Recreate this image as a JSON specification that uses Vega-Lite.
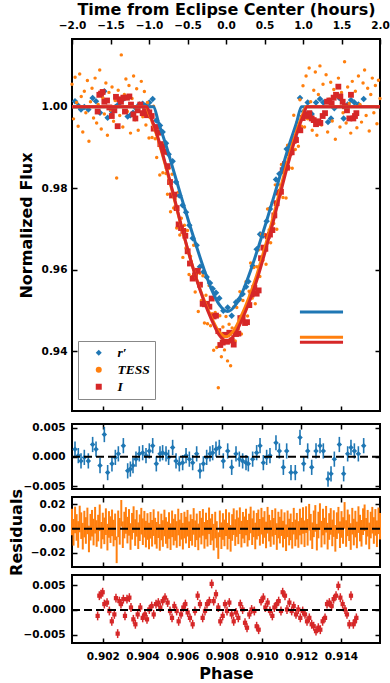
{
"$schema": "https://vega.github.io/schema/vega-lite/v6.json",
"background": "white",
"padding": {"left": 7, "top": 0, "right": 0, "bottom": 0},
"spacing": 13,
"bounds": "flush",
"config": {
  "font": "DejaVu Sans",
  "concat": {"spacing": 8},
  "view": {"stroke": "black", "strokeWidth": 2},
  "axis": {"domain": false, "grid": false, "labelFlush": false, "tickColor": "black", "tickWidth": 1.5, "tickSize": -5,
    "labelFont": "DejaVu Sans", "labelFontWeight": "bold", "labelFontSize": 10.5, "labelColor": "black",
    "titleFont": "DejaVu Sans", "titleFontWeight": "bold", "titleFontSize": 16, "titleColor": "black", "labelPadding": 9}
},
"datasets": {
"pts": [
{"b":"r′","t":-1.961,"f":1.0013,"r":0.0013,"e":0.0013},{"b":"r′","t":-1.918,"f":1.0002,"r":0.0002,"e":0.0013},{"b":"r′","t":-1.883,"f":0.9993,"r":-0.0007,"e":0.0013},{"b":"r′","t":-1.840,"f":0.9999,"r":-0.0001,"e":0.0013},{"b":"r′","t":-1.788,"f":0.9993,"r":-0.0007,"e":0.0013},{"b":"r′","t":-1.732,"f":1.0021,"r":0.0021,"e":0.0013},{"b":"r′","t":-1.688,"f":1.0013,"r":0.0013,"e":0.0013},{"b":"r′","t":-1.636,"f":0.9985,"r":-0.0015,"e":0.0013},{"b":"r′","t":-1.580,"f":1.0038,"r":0.0038,"e":0.0013},{"b":"r′","t":-1.537,"f":0.9973,"r":-0.0027,"e":0.0013},
{"b":"r′","t":-1.481,"f":0.9988,"r":-0.0012,"e":0.0013},{"b":"r′","t":-1.437,"f":0.9999,"r":-0.0001,"e":0.0013},{"b":"r′","t":-1.398,"f":1.0005,"r":0.0005,"e":0.0013},{"b":"r′","t":-1.333,"f":1.0019,"r":0.0019,"e":0.0013},{"b":"r′","t":-1.277,"f":0.9976,"r":-0.0024,"e":0.0013},{"b":"r′","t":-1.242,"f":0.9979,"r":-0.0021,"e":0.0013},{"b":"r′","t":-1.208,"f":0.9985,"r":-0.0015,"e":0.0013},{"b":"r′","t":-1.169,"f":0.9996,"r":-0.0004,"e":0.0013},{"b":"r′","t":-1.126,"f":1.0005,"r":0.0005,"e":0.0013},{"b":"r′","t":-1.082,"f":1.0007,"r":0.0007,"e":0.0013},
{"b":"r′","t":-1.039,"f":1.0002,"r":0.0002,"e":0.0013},{"b":"r′","t":-0.996,"f":1.0010,"r":0.0010,"e":0.0013},{"b":"r′","t":-0.952,"f":1.0019,"r":0.0019,"e":0.0013},{"b":"r′","t":-0.905,"f":0.9966,"r":-0.0012,"e":0.0013},{"b":"r′","t":-0.857,"f":0.9954,"r":0.0005,"e":0.0013},{"b":"r′","t":-0.823,"f":0.9938,"r":0.0007,"e":0.0013},{"b":"r′","t":-0.779,"f":0.9910,"r":0.0005,"e":0.0013},{"b":"r′","t":-0.745,"f":0.9883,"r":-0.0001,"e":0.0013},{"b":"r′","t":-0.693,"f":0.9866,"r":0.0016,"e":0.0013},{"b":"r′","t":-0.649,"f":0.9815,"r":-0.0007,"e":0.0013},
{"b":"r′","t":-0.606,"f":0.9782,"r":-0.0012,"e":0.0013},{"b":"r′","t":-0.563,"f":0.9758,"r":-0.0010,"e":0.0013},{"b":"r′","t":-0.519,"f":0.9741,"r":0.0002,"e":0.0013},{"b":"r′","t":-0.476,"f":0.9709,"r":-0.0004,"e":0.0013},{"b":"r′","t":-0.433,"f":0.9677,"r":-0.0010,"e":0.0013},{"b":"r′","t":-0.381,"f":0.9660,"r":0.0005,"e":0.0013},{"b":"r′","t":-0.338,"f":0.9607,"r":-0.0024,"e":0.0013},{"b":"r′","t":-0.294,"f":0.9594,"r":-0.0012,"e":0.0013},{"b":"r′","t":-0.251,"f":0.9582,"r":-0.0001,"e":0.0013},{"b":"r′","t":-0.208,"f":0.9567,"r":0.0005,"e":0.0013},
{"b":"r′","t":-0.173,"f":0.9553,"r":0.0007,"e":0.0013},{"b":"r′","t":-0.130,"f":0.9543,"r":0.0013,"e":0.0013},{"b":"r′","t":-0.087,"f":0.9530,"r":0.0016,"e":0.0013},{"b":"r′","t":-0.035,"f":0.9499,"r":-0.0007,"e":0.0013},{"b":"r′","t":0.022,"f":0.9507,"r":0.0010,"e":0.0013},{"b":"r′","t":0.074,"f":0.9487,"r":-0.0018,"e":0.0013},{"b":"r′","t":0.130,"f":0.9520,"r":0.0005,"e":0.0013},{"b":"r′","t":0.173,"f":0.9527,"r":-0.0004,"e":0.0013},{"b":"r′","t":0.216,"f":0.9540,"r":-0.0007,"e":0.0013},{"b":"r′","t":0.260,"f":0.9558,"r":-0.0010,"e":0.0013},
{"b":"r′","t":0.290,"f":0.9571,"r":-0.0012,"e":0.0013},{"b":"r′","t":0.346,"f":0.9609,"r":-0.0004,"e":0.0013},{"b":"r′","t":0.398,"f":0.9650,"r":0.0007,"e":0.0013},{"b":"r′","t":0.442,"f":0.9687,"r":0.0019,"e":0.0013},{"b":"r′","t":0.485,"f":0.9684,"r":-0.0010,"e":0.0013},{"b":"r′","t":0.528,"f":0.9719,"r":-0.0001,"e":0.0013},{"b":"r′","t":0.571,"f":0.9749,"r":0.0002,"e":0.0013},{"b":"r′","t":0.649,"f":0.9821,"r":0.0024,"e":0.0013},{"b":"r′","t":0.693,"f":0.9835,"r":0.0010,"e":0.0013},{"b":"r′","t":0.745,"f":0.9840,"r":-0.0018,"e":0.0013},
{"b":"r′","t":0.788,"f":0.9896,"r":0.0010,"e":0.0013},{"b":"r′","t":0.844,"f":0.9893,"r":-0.0027,"e":0.0013},{"b":"r′","t":0.900,"f":0.9925,"r":-0.0027,"e":0.0013},{"b":"r′","t":0.961,"f":1.0021,"r":0.0033,"e":0.0013},{"b":"r′","t":1.009,"f":0.9988,"r":-0.0012,"e":0.0013},{"b":"r′","t":1.061,"f":1.0010,"r":0.0010,"e":0.0013},{"b":"r′","t":1.113,"f":0.9982,"r":-0.0018,"e":0.0013},{"b":"r′","t":1.169,"f":1.0010,"r":0.0010,"e":0.0013},{"b":"r′","t":1.221,"f":1.0019,"r":0.0019,"e":0.0013},{"b":"r′","t":1.264,"f":1.0010,"r":0.0010,"e":0.0013},
{"b":"r′","t":1.325,"f":0.9962,"r":-0.0038,"e":0.0013},{"b":"r′","t":1.364,"f":0.9971,"r":-0.0029,"e":0.0013},{"b":"r′","t":1.407,"f":0.9996,"r":-0.0004,"e":0.0013},{"b":"r′","t":1.472,"f":1.0021,"r":0.0021,"e":0.0013},{"b":"r′","t":1.528,"f":0.9971,"r":-0.0029,"e":0.0013},{"b":"r′","t":1.580,"f":1.0005,"r":0.0005,"e":0.0013},{"b":"r′","t":1.623,"f":1.0016,"r":0.0016,"e":0.0013},{"b":"r′","t":1.667,"f":1.0010,"r":0.0010,"e":0.0013},{"b":"r′","t":1.719,"f":1.0005,"r":0.0005,"e":0.0013},{"b":"r′","t":1.788,"f":1.0019,"r":0.0019,"e":0.0013},
{"b":"TESS","t":-2.00,"f":1.0055,"r":0.0055,"e":0.011},{"b":"TESS","t":-1.98,"f":0.9970,"r":-0.0030,"e":0.011},{"b":"TESS","t":-1.96,"f":1.0072,"r":0.0072,"e":0.011},{"b":"TESS","t":-1.94,"f":1.0010,"r":0.0010,"e":0.011},{"b":"TESS","t":-1.92,"f":0.9952,"r":-0.0048,"e":0.011},{"b":"TESS","t":-1.90,"f":1.0080,"r":0.0080,"e":0.011},{"b":"TESS","t":-1.88,"f":1.0025,"r":0.0025,"e":0.011},{"b":"TESS","t":-1.86,"f":0.9938,"r":-0.0062,"e":0.011},{"b":"TESS","t":-1.84,"f":1.0038,"r":0.0038,"e":0.011},{"b":"TESS","t":-1.82,"f":0.9985,"r":-0.0015,"e":0.011},
{"b":"TESS","t":-1.80,"f":1.0064,"r":0.0064,"e":0.011},{"b":"TESS","t":-1.78,"f":0.9915,"r":-0.0085,"e":0.011},{"b":"TESS","t":-1.76,"f":1.0012,"r":0.0012,"e":0.011},{"b":"TESS","t":-1.74,"f":1.0045,"r":0.0045,"e":0.011},{"b":"TESS","t":-1.72,"f":0.9972,"r":-0.0028,"e":0.011},{"b":"TESS","t":-1.70,"f":1.0070,"r":0.0070,"e":0.011},{"b":"TESS","t":-1.68,"f":0.9960,"r":-0.0040,"e":0.011},{"b":"TESS","t":-1.66,"f":1.0005,"r":0.0005,"e":0.011},{"b":"TESS","t":-1.64,"f":1.0090,"r":0.0090,"e":0.011},{"b":"TESS","t":-1.62,"f":0.9945,"r":-0.0055,"e":0.011},
{"b":"TESS","t":-1.60,"f":1.0022,"r":0.0022,"e":0.011},{"b":"TESS","t":-1.58,"f":0.9982,"r":-0.0018,"e":0.011},{"b":"TESS","t":-1.56,"f":1.0058,"r":0.0058,"e":0.011},{"b":"TESS","t":-1.54,"f":0.9930,"r":-0.0070,"e":0.011},{"b":"TESS","t":-1.52,"f":1.0035,"r":0.0035,"e":0.011},{"b":"TESS","t":-1.50,"f":0.9992,"r":-0.0008,"e":0.011},{"b":"TESS","t":-1.48,"f":1.0048,"r":0.0048,"e":0.011},{"b":"TESS","t":-1.46,"f":0.9964,"r":-0.0036,"e":0.011},{"b":"TESS","t":-1.44,"f":1.0015,"r":0.0015,"e":0.011},{"b":"TESS","t":-1.42,"f":0.9825,"r":-0.0175,"e":0.011},
{"b":"TESS","t":-1.40,"f":1.0040,"r":0.0040,"e":0.011},{"b":"TESS","t":-1.38,"f":0.9978,"r":-0.0022,"e":0.011},{"b":"TESS","t":-1.36,"f":1.0127,"r":0.0127,"e":0.011},{"b":"TESS","t":-1.34,"f":0.9950,"r":-0.0050,"e":0.011},{"b":"TESS","t":-1.32,"f":1.0030,"r":0.0030,"e":0.011},{"b":"TESS","t":-1.30,"f":1.0068,"r":0.0068,"e":0.011},{"b":"TESS","t":-1.28,"f":0.9988,"r":-0.0012,"e":0.011},{"b":"TESS","t":-1.26,"f":1.0052,"r":0.0052,"e":0.011},{"b":"TESS","t":-1.24,"f":0.9935,"r":-0.0065,"e":0.011},{"b":"TESS","t":-1.22,"f":1.0020,"r":0.0020,"e":0.011},
{"b":"TESS","t":-1.20,"f":1.0075,"r":0.0075,"e":0.011},{"b":"TESS","t":-1.18,"f":0.9968,"r":-0.0032,"e":0.011},{"b":"TESS","t":-1.16,"f":1.0044,"r":0.0044,"e":0.011},{"b":"TESS","t":-1.14,"f":0.9942,"r":-0.0058,"e":0.011},{"b":"TESS","t":-1.12,"f":1.0008,"r":0.0008,"e":0.011},{"b":"TESS","t":-1.10,"f":1.0062,"r":0.0062,"e":0.011},{"b":"TESS","t":-1.08,"f":0.9975,"r":-0.0025,"e":0.011},{"b":"TESS","t":-1.06,"f":1.0037,"r":0.0037,"e":0.011},{"b":"TESS","t":-1.04,"f":0.9955,"r":-0.0045,"e":0.011},{"b":"TESS","t":-1.02,"f":1.0010,"r":0.0018,"e":0.011},
{"b":"TESS","t":-1.00,"f":0.9923,"r":-0.0060,"e":0.011},{"b":"TESS","t":-0.98,"f":1.0000,"r":0.0028,"e":0.011},{"b":"TESS","t":-0.96,"f":0.9924,"r":-0.0038,"e":0.011},{"b":"TESS","t":-0.94,"f":1.0001,"r":0.0050,"e":0.011},{"b":"TESS","t":-0.92,"f":0.9921,"r":-0.0020,"e":0.011},{"b":"TESS","t":-0.90,"f":0.9875,"r":-0.0055,"e":0.011},{"b":"TESS","t":-0.88,"f":0.9950,"r":0.0033,"e":0.011},{"b":"TESS","t":-0.86,"f":0.9832,"r":-0.0072,"e":0.011},{"b":"TESS","t":-0.84,"f":0.9905,"r":0.0014,"e":0.011},{"b":"TESS","t":-0.82,"f":0.9838,"r":-0.0040,"e":0.011},
{"b":"TESS","t":-0.80,"f":0.9912,"r":0.0047,"e":0.011},{"b":"TESS","t":-0.78,"f":0.9836,"r":-0.0015,"e":0.011},{"b":"TESS","t":-0.76,"f":0.9785,"r":-0.0052,"e":0.011},{"b":"TESS","t":-0.74,"f":0.9848,"r":0.0026,"e":0.011},{"b":"TESS","t":-0.72,"f":0.9742,"r":-0.0066,"e":0.011},{"b":"TESS","t":-0.70,"f":0.9834,"r":0.0040,"e":0.011},{"b":"TESS","t":-0.68,"f":0.9751,"r":-0.0028,"e":0.011},{"b":"TESS","t":-0.66,"f":0.9774,"r":0.0010,"e":0.011},{"b":"TESS","t":-0.64,"f":0.9702,"r":-0.0048,"e":0.011},{"b":"TESS","t":-0.62,"f":0.9790,"r":0.0055,"e":0.011},
{"b":"TESS","t":-0.60,"f":0.9685,"r":-0.0035,"e":0.011},{"b":"TESS","t":-0.58,"f":0.9726,"r":0.0020,"e":0.011},{"b":"TESS","t":-0.56,"f":0.9630,"r":-0.0062,"e":0.011},{"b":"TESS","t":-0.54,"f":0.9709,"r":0.0030,"e":0.011},{"b":"TESS","t":-0.52,"f":0.9653,"r":-0.0012,"e":0.011},{"b":"TESS","t":-0.50,"f":0.9696,"r":0.0045,"e":0.011},{"b":"TESS","t":-0.48,"f":0.9588,"r":-0.0050,"e":0.011},{"b":"TESS","t":-0.46,"f":0.9633,"r":0.0008,"e":0.011},{"b":"TESS","t":-0.44,"f":0.9583,"r":-0.0030,"e":0.011},{"b":"TESS","t":-0.42,"f":0.9660,"r":0.0060,"e":0.011},
{"b":"TESS","t":-0.40,"f":0.9545,"r":-0.0042,"e":0.011},{"b":"TESS","t":-0.38,"f":0.9591,"r":0.0015,"e":0.011},{"b":"TESS","t":-0.36,"f":0.9497,"r":-0.0068,"e":0.011},{"b":"TESS","t":-0.34,"f":0.9591,"r":0.0036,"e":0.011},{"b":"TESS","t":-0.32,"f":0.9524,"r":-0.0020,"e":0.011},{"b":"TESS","t":-0.30,"f":0.9585,"r":0.0052,"e":0.011},{"b":"TESS","t":-0.28,"f":0.9469,"r":-0.0055,"e":0.011},{"b":"TESS","t":-0.26,"f":0.9537,"r":0.0022,"e":0.011},{"b":"TESS","t":-0.24,"f":0.9467,"r":-0.0038,"e":0.011},{"b":"TESS","t":-0.22,"f":0.9561,"r":0.0065,"e":0.011},
{"b":"TESS","t":-0.20,"f":0.9462,"r":-0.0025,"e":0.011},{"b":"TESS","t":-0.18,"f":0.9492,"r":0.0012,"e":0.011},{"b":"TESS","t":-0.16,"f":0.9402,"r":-0.0070,"e":0.011},{"b":"TESS","t":-0.14,"f":0.9495,"r":0.0030,"e":0.011},{"b":"TESS","t":-0.12,"f":0.9409,"r":-0.0048,"e":0.011},{"b":"TESS","t":-0.10,"f":0.9310,"r":-0.0140,"e":0.011},{"b":"TESS","t":-0.08,"f":0.9487,"r":0.0040,"e":0.011},{"b":"TESS","t":-0.06,"f":0.9386,"r":-0.0058,"e":0.011},{"b":"TESS","t":-0.04,"f":0.9459,"r":0.0018,"e":0.011},{"b":"TESS","t":-0.02,"f":0.9403,"r":-0.0035,"e":0.011},
{"b":"TESS","t":0.00,"f":0.9485,"r":0.0050,"e":0.011},{"b":"TESS","t":0.02,"f":0.9376,"r":-0.0062,"e":0.011},{"b":"TESS","t":0.04,"f":0.9466,"r":0.0025,"e":0.011},{"b":"TESS","t":0.06,"f":0.9364,"r":-0.0080,"e":0.011},{"b":"TESS","t":0.08,"f":0.9457,"r":0.0010,"e":0.011},{"b":"TESS","t":0.10,"f":0.9508,"r":0.0058,"e":0.011},{"b":"TESS","t":0.12,"f":0.9425,"r":-0.0032,"e":0.011},{"b":"TESS","t":0.14,"f":0.9507,"r":0.0042,"e":0.011},{"b":"TESS","t":0.16,"f":0.9454,"r":-0.0018,"e":0.011},{"b":"TESS","t":0.18,"f":0.9546,"r":0.0066,"e":0.011},
{"b":"TESS","t":0.20,"f":0.9442,"r":-0.0045,"e":0.011},{"b":"TESS","t":0.22,"f":0.9524,"r":0.0028,"e":0.011},{"b":"TESS","t":0.24,"f":0.9495,"r":-0.0010,"e":0.011},{"b":"TESS","t":0.26,"f":0.9570,"r":0.0055,"e":0.011},{"b":"TESS","t":0.28,"f":0.9486,"r":-0.0038,"e":0.011},{"b":"TESS","t":0.30,"f":0.9547,"r":0.0014,"e":0.011},{"b":"TESS","t":0.32,"f":0.9616,"r":0.0072,"e":0.011},{"b":"TESS","t":0.34,"f":0.9530,"r":-0.0025,"e":0.011},{"b":"TESS","t":0.36,"f":0.9605,"r":0.0040,"e":0.011},{"b":"TESS","t":0.38,"f":0.9516,"r":-0.0060,"e":0.011},
{"b":"TESS","t":0.40,"f":0.9607,"r":0.0020,"e":0.011},{"b":"TESS","t":0.42,"f":0.9648,"r":0.0048,"e":0.011},{"b":"TESS","t":0.44,"f":0.9583,"r":-0.0030,"e":0.011},{"b":"TESS","t":0.46,"f":0.9687,"r":0.0062,"e":0.011},{"b":"TESS","t":0.48,"f":0.9623,"r":-0.0015,"e":0.011},{"b":"TESS","t":0.50,"f":0.9686,"r":0.0035,"e":0.011},{"b":"TESS","t":0.52,"f":0.9613,"r":-0.0052,"e":0.011},{"b":"TESS","t":0.54,"f":0.9749,"r":0.0070,"e":0.011},{"b":"TESS","t":0.56,"f":0.9697,"r":0.0005,"e":0.011},{"b":"TESS","t":0.58,"f":0.9666,"r":-0.0040,"e":0.011},
{"b":"TESS","t":0.60,"f":0.9765,"r":0.0045,"e":0.011},{"b":"TESS","t":0.62,"f":0.9713,"r":-0.0022,"e":0.011},{"b":"TESS","t":0.64,"f":0.9808,"r":0.0058,"e":0.011},{"b":"TESS","t":0.66,"f":0.9699,"r":-0.0065,"e":0.011},{"b":"TESS","t":0.68,"f":0.9809,"r":0.0030,"e":0.011},{"b":"TESS","t":0.70,"f":0.9782,"r":-0.0012,"e":0.011},{"b":"TESS","t":0.72,"f":0.9858,"r":0.0050,"e":0.011},{"b":"TESS","t":0.74,"f":0.9777,"r":-0.0045,"e":0.011},{"b":"TESS","t":0.76,"f":0.9862,"r":0.0025,"e":0.011},{"b":"TESS","t":0.78,"f":0.9776,"r":-0.0075,"e":0.011},
{"b":"TESS","t":0.80,"f":0.9905,"r":0.0040,"e":0.011},{"b":"TESS","t":0.82,"f":0.9850,"r":-0.0028,"e":0.011},{"b":"TESS","t":0.84,"f":0.9906,"r":0.0015,"e":0.011},{"b":"TESS","t":0.86,"f":0.9849,"r":-0.0055,"e":0.011},{"b":"TESS","t":0.88,"f":0.9979,"r":0.0062,"e":0.011},{"b":"TESS","t":0.90,"f":0.9895,"r":-0.0035,"e":0.011},{"b":"TESS","t":0.92,"f":0.9961,"r":0.0020,"e":0.011},{"b":"TESS","t":0.94,"f":0.9903,"r":-0.0048,"e":0.011},{"b":"TESS","t":0.96,"f":1.0017,"r":0.0055,"e":0.011},{"b":"TESS","t":0.98,"f":0.9952,"r":-0.0020,"e":0.011},
{"b":"TESS","t":1.00,"f":1.0051,"r":0.0068,"e":0.011},{"b":"TESS","t":1.02,"f":0.9950,"r":-0.0042,"e":0.011},{"b":"TESS","t":1.04,"f":1.0075,"r":0.0075,"e":0.011},{"b":"TESS","t":1.06,"f":0.9970,"r":-0.0030,"e":0.011},{"b":"TESS","t":1.08,"f":1.0095,"r":0.0095,"e":0.011},{"b":"TESS","t":1.10,"f":1.0012,"r":0.0012,"e":0.011},{"b":"TESS","t":1.12,"f":0.9942,"r":-0.0058,"e":0.011},{"b":"TESS","t":1.14,"f":1.0040,"r":0.0040,"e":0.011},{"b":"TESS","t":1.16,"f":1.0085,"r":0.0085,"e":0.011},{"b":"TESS","t":1.18,"f":0.9930,"r":-0.0070,"e":0.011},
{"b":"TESS","t":1.20,"f":1.0030,"r":0.0030,"e":0.011},{"b":"TESS","t":1.22,"f":1.0100,"r":0.0100,"e":0.011},{"b":"TESS","t":1.24,"f":0.9955,"r":-0.0045,"e":0.011},{"b":"TESS","t":1.26,"f":1.0055,"r":0.0055,"e":0.011},{"b":"TESS","t":1.28,"f":0.9980,"r":-0.0020,"e":0.011},{"b":"TESS","t":1.30,"f":1.0078,"r":0.0078,"e":0.011},{"b":"TESS","t":1.32,"f":0.9938,"r":-0.0062,"e":0.011},{"b":"TESS","t":1.34,"f":1.0018,"r":0.0018,"e":0.011},{"b":"TESS","t":1.36,"f":1.0060,"r":0.0060,"e":0.011},{"b":"TESS","t":1.38,"f":0.9965,"r":-0.0035,"e":0.011},
{"b":"TESS","t":1.40,"f":1.0042,"r":0.0042,"e":0.011},{"b":"TESS","t":1.42,"f":0.9920,"r":-0.0080,"e":0.011},{"b":"TESS","t":1.44,"f":1.0025,"r":0.0025,"e":0.011},{"b":"TESS","t":1.46,"f":1.0070,"r":0.0070,"e":0.011},{"b":"TESS","t":1.48,"f":0.9950,"r":-0.0050,"e":0.011},{"b":"TESS","t":1.50,"f":1.0035,"r":0.0035,"e":0.011},{"b":"TESS","t":1.52,"f":0.9985,"r":-0.0015,"e":0.011},{"b":"TESS","t":1.54,"f":1.0110,"r":0.0110,"e":0.011},{"b":"TESS","t":1.56,"f":0.9960,"r":-0.0040,"e":0.011},{"b":"TESS","t":1.58,"f":1.0048,"r":0.0048,"e":0.011},
{"b":"TESS","t":1.60,"f":1.0008,"r":0.0008,"e":0.011},{"b":"TESS","t":1.62,"f":0.9935,"r":-0.0065,"e":0.011},{"b":"TESS","t":1.64,"f":1.0062,"r":0.0062,"e":0.011},{"b":"TESS","t":1.66,"f":0.9972,"r":-0.0028,"e":0.011},{"b":"TESS","t":1.68,"f":1.0038,"r":0.0038,"e":0.011},{"b":"TESS","t":1.70,"f":0.9948,"r":-0.0052,"e":0.011},{"b":"TESS","t":1.72,"f":1.0075,"r":0.0075,"e":0.011},{"b":"TESS","t":1.74,"f":1.0005,"r":0.0005,"e":0.011},{"b":"TESS","t":1.76,"f":0.9962,"r":-0.0038,"e":0.011},{"b":"TESS","t":1.78,"f":1.0058,"r":0.0058,"e":0.011},
{"b":"TESS","t":1.80,"f":1.0090,"r":0.0090,"e":0.011},{"b":"TESS","t":1.82,"f":0.9978,"r":-0.0022,"e":0.011},{"b":"TESS","t":1.84,"f":1.0045,"r":0.0045,"e":0.011},{"b":"TESS","t":1.86,"f":0.9940,"r":-0.0060,"e":0.011},{"b":"TESS","t":1.88,"f":1.0030,"r":0.0030,"e":0.011},{"b":"TESS","t":1.90,"f":1.0070,"r":0.0070,"e":0.011},{"b":"TESS","t":1.92,"f":0.9985,"r":-0.0015,"e":0.011},{"b":"TESS","t":1.94,"f":1.0052,"r":0.0052,"e":0.011},{"b":"TESS","t":1.96,"f":0.9958,"r":-0.0042,"e":0.011},{"b":"TESS","t":1.98,"f":1.0065,"r":0.0065,"e":0.011},
{"b":"TESS","t":2.00,"f":1.0020,"r":0.0020,"e":0.011},
{"b":"I","t":-1.667,"f":0.9988,"r":-0.0012,"e":0.0009},{"b":"I","t":-1.645,"f":1.0029,"r":0.0029,"e":0.0009},{"b":"I","t":-1.623,"f":1.0032,"r":0.0032,"e":0.0009},{"b":"I","t":-1.602,"f":1.0036,"r":0.0036,"e":0.0009},{"b":"I","t":-1.580,"f":1.0012,"r":0.0012,"e":0.0009},{"b":"I","t":-1.545,"f":1.0015,"r":0.0015,"e":0.0009},{"b":"I","t":-1.515,"f":0.9998,"r":-0.0002,"e":0.0009},{"b":"I","t":-1.483,"f":0.9977,"r":-0.0023,"e":0.0009},{"b":"I","t":-1.450,"f":0.9991,"r":-0.0009,"e":0.0009},{"b":"I","t":-1.429,"f":1.0024,"r":0.0024,"e":0.0009},
{"b":"I","t":-1.407,"f":0.9952,"r":-0.0048,"e":0.0009},{"b":"I","t":-1.385,"f":1.0018,"r":0.0018,"e":0.0009},{"b":"I","t":-1.364,"f":1.0012,"r":0.0012,"e":0.0009},{"b":"I","t":-1.333,"f":1.0022,"r":0.0022,"e":0.0009},{"b":"I","t":-1.312,"f":0.9988,"r":-0.0012,"e":0.0009},{"b":"I","t":-1.286,"f":1.0022,"r":0.0022,"e":0.0009},{"b":"I","t":-1.255,"f":1.0025,"r":0.0025,"e":0.0009},{"b":"I","t":-1.234,"f":1.0005,"r":0.0005,"e":0.0009},{"b":"I","t":-1.203,"f":0.9981,"r":-0.0019,"e":0.0009},{"b":"I","t":-1.177,"f":0.9971,"r":-0.0029,"e":0.0009},
{"b":"I","t":-1.147,"f":0.9991,"r":-0.0009,"e":0.0009},{"b":"I","t":-1.113,"f":1.0005,"r":0.0005,"e":0.0009},{"b":"I","t":-1.082,"f":0.9984,"r":-0.0016,"e":0.0009},{"b":"I","t":-1.052,"f":0.9991,"r":-0.0009,"e":0.0009},{"b":"I","t":-1.026,"f":0.9979,"r":-0.0019,"e":0.0009},{"b":"I","t":-0.996,"f":0.9986,"r":0.0001,"e":0.0009},{"b":"I","t":-0.965,"f":0.9977,"r":0.0008,"e":0.0009},{"b":"I","t":-0.939,"f":0.9946,"r":-0.0009,"e":0.0009},{"b":"I","t":-0.909,"f":0.9950,"r":0.0012,"e":0.0009},{"b":"I","t":-0.879,"f":0.9936,"r":0.0015,"e":0.0009},
{"b":"I","t":-0.853,"f":0.9908,"r":0.0005,"e":0.0009},{"b":"I","t":-0.823,"f":0.9902,"r":0.0018,"e":0.0009},{"b":"I","t":-0.792,"f":0.9889,"r":0.0025,"e":0.0009},{"b":"I","t":-0.758,"f":0.9854,"r":0.0015,"e":0.0009},{"b":"I","t":-0.727,"f":0.9815,"r":-0.0002,"e":0.0009},{"b":"I","t":-0.701,"f":0.9782,"r":-0.0016,"e":0.0009},{"b":"I","t":-0.671,"f":0.9784,"r":0.0008,"e":0.0009},{"b":"I","t":-0.641,"f":0.9751,"r":-0.0002,"e":0.0009},{"b":"I","t":-0.615,"f":0.9711,"r":-0.0023,"e":0.0009},{"b":"I","t":-0.584,"f":0.9702,"r":-0.0009,"e":0.0009},
{"b":"I","t":-0.554,"f":0.9695,"r":0.0005,"e":0.0009},{"b":"I","t":-0.528,"f":0.9683,"r":0.0012,"e":0.0009},{"b":"I","t":-0.498,"f":0.9645,"r":-0.0005,"e":0.0009},{"b":"I","t":-0.468,"f":0.9615,"r":-0.0016,"e":0.0009},{"b":"I","t":-0.433,"f":0.9578,"r":-0.0029,"e":0.0009},{"b":"I","t":-0.403,"f":0.9586,"r":-0.0002,"e":0.0009},{"b":"I","t":-0.368,"f":0.9597,"r":0.0029,"e":0.0009},{"b":"I","t":-0.338,"f":0.9563,"r":0.0012,"e":0.0009},{"b":"I","t":-0.303,"f":0.9516,"r":-0.0016,"e":0.0009},{"b":"I","t":-0.273,"f":0.9515,"r":-0.0002,"e":0.0009},
{"b":"I","t":-0.247,"f":0.9516,"r":0.0012,"e":0.0009},{"b":"I","t":-0.216,"f":0.9509,"r":0.0018,"e":0.0009},{"b":"I","t":-0.186,"f":0.9529,"r":0.0053,"e":0.0009},{"b":"I","t":-0.160,"f":0.9485,"r":0.0018,"e":0.0009},{"b":"I","t":-0.130,"f":0.9487,"r":0.0032,"e":0.0009},{"b":"I","t":-0.100,"f":0.9449,"r":0.0005,"e":0.0009},{"b":"I","t":-0.074,"f":0.9415,"r":-0.0023,"e":0.0009},{"b":"I","t":-0.043,"f":0.9421,"r":-0.0012,"e":0.0009},{"b":"I","t":-0.013,"f":0.9440,"r":0.0012,"e":0.0009},{"b":"I","t":0.013,"f":0.9423,"r":-0.0002,"e":0.0009},
{"b":"I","t":0.043,"f":0.9445,"r":0.0015,"e":0.0009},{"b":"I","t":0.074,"f":0.9426,"r":-0.0009,"e":0.0009},{"b":"I","t":0.100,"f":0.9416,"r":-0.0023,"e":0.0009},{"b":"I","t":0.130,"f":0.9442,"r":-0.0005,"e":0.0009},{"b":"I","t":0.160,"f":0.9443,"r":-0.0016,"e":0.0009},{"b":"I","t":0.186,"f":0.9481,"r":0.0012,"e":0.0009},{"b":"I","t":0.216,"f":0.9482,"r":0.0001,"e":0.0009},{"b":"I","t":0.247,"f":0.9469,"r":-0.0026,"e":0.0009},{"b":"I","t":0.273,"f":0.9471,"r":-0.0036,"e":0.0009},{"b":"I","t":0.303,"f":0.9513,"r":-0.0009,"e":0.0009},
{"b":"I","t":0.333,"f":0.9539,"r":0.0001,"e":0.0009},{"b":"I","t":0.368,"f":0.9555,"r":-0.0002,"e":0.0009},{"b":"I","t":0.398,"f":0.9541,"r":-0.0033,"e":0.0009},{"b":"I","t":0.424,"f":0.9549,"r":-0.0040,"e":0.0009},{"b":"I","t":0.455,"f":0.9628,"r":0.0018,"e":0.0009},{"b":"I","t":0.485,"f":0.9654,"r":0.0025,"e":0.0009},{"b":"I","t":0.511,"f":0.9651,"r":0.0005,"e":0.0009},{"b":"I","t":0.541,"f":0.9682,"r":0.0015,"e":0.0009},{"b":"I","t":0.571,"f":0.9686,"r":-0.0002,"e":0.0009},{"b":"I","t":0.602,"f":0.9697,"r":-0.0012,"e":0.0009},
{"b":"I","t":0.628,"f":0.9733,"r":0.0005,"e":0.0009},{"b":"I","t":0.658,"f":0.9763,"r":0.0012,"e":0.0009},{"b":"I","t":0.684,"f":0.9789,"r":0.0018,"e":0.0009},{"b":"I","t":0.714,"f":0.9791,"r":-0.0002,"e":0.0009},{"b":"I","t":0.736,"f":0.9844,"r":0.0036,"e":0.0009},{"b":"I","t":0.766,"f":0.9859,"r":0.0029,"e":0.0009},{"b":"I","t":0.792,"f":0.9850,"r":0.0001,"e":0.0009},{"b":"I","t":0.823,"f":0.9886,"r":0.0015,"e":0.0009},{"b":"I","t":0.853,"f":0.9888,"r":-0.0002,"e":0.0009},{"b":"I","t":0.879,"f":0.9916,"r":0.0008,"e":0.0009},
{"b":"I","t":0.909,"f":0.9918,"r":-0.0009,"e":0.0009},{"b":"I","t":0.939,"f":0.9945,"r":0.0001,"e":0.0009},{"b":"I","t":0.965,"f":0.9942,"r":-0.0016,"e":0.0009},{"b":"I","t":0.996,"f":0.9972,"r":-0.0002,"e":0.0009},{"b":"I","t":1.026,"f":0.9980,"r":-0.0009,"e":0.0009},{"b":"I","t":1.052,"f":0.9977,"r":-0.0023,"e":0.0009},{"b":"I","t":1.082,"f":0.9984,"r":-0.0016,"e":0.0009},{"b":"I","t":1.113,"f":0.9971,"r":-0.0029,"e":0.0009},{"b":"I","t":1.139,"f":0.9967,"r":-0.0033,"e":0.0009},{"b":"I","t":1.169,"f":0.9957,"r":-0.0043,"e":0.0009},
{"b":"I","t":1.199,"f":0.9964,"r":-0.0036,"e":0.0009},{"b":"I","t":1.225,"f":0.9960,"r":-0.0040,"e":0.0009},{"b":"I","t":1.255,"f":0.9977,"r":-0.0023,"e":0.0009},{"b":"I","t":1.286,"f":0.9984,"r":-0.0016,"e":0.0009},{"b":"I","t":1.312,"f":1.0012,"r":0.0012,"e":0.0009},{"b":"I","t":1.342,"f":1.0015,"r":0.0015,"e":0.0009},{"b":"I","t":1.372,"f":1.0008,"r":0.0008,"e":0.0009},{"b":"I","t":1.398,"f":1.0022,"r":0.0022,"e":0.0009},{"b":"I","t":1.429,"f":1.0029,"r":0.0029,"e":0.0009},{"b":"I","t":1.459,"f":1.0049,"r":0.0049,"e":0.0009},
{"b":"I","t":1.485,"f":1.0025,"r":0.0025,"e":0.0009},{"b":"I","t":1.515,"f":1.0012,"r":0.0012,"e":0.0009},{"b":"I","t":1.545,"f":1.0001,"r":0.0001,"e":0.0009},{"b":"I","t":1.571,"f":0.9991,"r":-0.0009,"e":0.0009},{"b":"I","t":1.602,"f":0.9971,"r":-0.0029,"e":0.0009},{"b":"I","t":1.623,"f":1.0029,"r":0.0029,"e":0.0009},{"b":"I","t":1.654,"f":0.9971,"r":-0.0029,"e":0.0009},{"b":"I","t":1.675,"f":0.9977,"r":-0.0023,"e":0.0009},{"b":"I","t":1.693,"f":0.9984,"r":-0.0016,"e":0.0009}
],
"mod": [
{"b":"r′","t":-2.0,"f":1.0},{"b":"r′","t":-0.94,"f":1.0},{"b":"r′","t":-0.88,"f":0.9963},{"b":"r′","t":-0.78,"f":0.9906},{"b":"r′","t":-0.68,"f":0.9842},{"b":"r′","t":-0.58,"f":0.9778},{"b":"r′","t":-0.48,"f":0.9715},{"b":"r′","t":-0.38,"f":0.9655},{"b":"r′","t":-0.28,"f":0.9598},{"b":"r′","t":-0.18,"f":0.9548},{"b":"r′","t":-0.08,"f":0.9512},{"b":"r′","t":0.02,"f":0.9497},{"b":"r′","t":0.12,"f":0.9512},{"b":"r′","t":0.22,"f":0.9548},{"b":"r′","t":0.32,"f":0.9598},{"b":"r′","t":0.42,"f":0.9655},{"b":"r′","t":0.52,"f":0.9715},{"b":"r′","t":0.62,"f":0.9778},{"b":"r′","t":0.72,"f":0.9842},{"b":"r′","t":0.82,"f":0.9906},{"b":"r′","t":0.92,"f":0.9963},{"b":"r′","t":0.98,"f":1.0},{"b":"r′","t":2.0,"f":1.0},
{"b":"TESS","t":-2.0,"f":1.0},{"b":"TESS","t":-1.04,"f":1.0},{"b":"TESS","t":-1.0,"f":0.9983},{"b":"TESS","t":-0.9,"f":0.9930},{"b":"TESS","t":-0.8,"f":0.9865},{"b":"TESS","t":-0.7,"f":0.9794},{"b":"TESS","t":-0.6,"f":0.9720},{"b":"TESS","t":-0.5,"f":0.9651},{"b":"TESS","t":-0.4,"f":0.9587},{"b":"TESS","t":-0.3,"f":0.9533},{"b":"TESS","t":-0.2,"f":0.9487},{"b":"TESS","t":-0.1,"f":0.9450},{"b":"TESS","t":0.0,"f":0.9435},{"b":"TESS","t":0.1,"f":0.9450},{"b":"TESS","t":0.2,"f":0.9487},{"b":"TESS","t":0.3,"f":0.9533},{"b":"TESS","t":0.4,"f":0.9587},{"b":"TESS","t":0.5,"f":0.9651},{"b":"TESS","t":0.6,"f":0.9720},{"b":"TESS","t":0.7,"f":0.9794},{"b":"TESS","t":0.8,"f":0.9865},{"b":"TESS","t":0.9,"f":0.9930},{"b":"TESS","t":1.0,"f":0.9983},{"b":"TESS","t":1.04,"f":1.0},{"b":"TESS","t":2.0,"f":1.0},
{"b":"I","t":-2.0,"f":1.0},{"b":"I","t":-1.03,"f":1.0},{"b":"I","t":-0.99,"f":0.9982},{"b":"I","t":-0.89,"f":0.9928},{"b":"I","t":-0.79,"f":0.9862},{"b":"I","t":-0.69,"f":0.9790},{"b":"I","t":-0.59,"f":0.9715},{"b":"I","t":-0.49,"f":0.9645},{"b":"I","t":-0.39,"f":0.9580},{"b":"I","t":-0.29,"f":0.9525},{"b":"I","t":-0.19,"f":0.9478},{"b":"I","t":-0.09,"f":0.9440},{"b":"I","t":0.01,"f":0.9425},{"b":"I","t":0.11,"f":0.9440},{"b":"I","t":0.21,"f":0.9478},{"b":"I","t":0.31,"f":0.9525},{"b":"I","t":0.41,"f":0.9580},{"b":"I","t":0.51,"f":0.9645},{"b":"I","t":0.61,"f":0.9715},{"b":"I","t":0.71,"f":0.9790},{"b":"I","t":0.81,"f":0.9862},{"b":"I","t":0.91,"f":0.9928},{"b":"I","t":1.01,"f":0.9982},{"b":"I","t":1.05,"f":1.0},{"b":"I","t":2.0,"f":1.0}
],
"dep": [
{"b":"r′","t1":0.96,"t2":1.52,"f":0.9496},{"b":"TESS","t1":0.96,"t2":1.52,"f":0.9434},{"b":"I","t1":0.96,"t2":1.52,"f":0.9422}
]
},
"vconcat": [
{
  "width": 308, "height": 372,
  "layer": [
    {"data": {"values": [{"ph": 0.90045, "v": 1.0}]}, "mark": {"type": "point", "opacity": 0},
     "encoding": {
       "x": {"field": "ph", "type": "quantitative", "scale": {"domain": [0.90045, 0.91597], "nice": false, "zero": false}, "axis": {"orient": "bottom", "values": [0.902,0.904,0.906,0.908,0.910,0.912,0.914], "labels": false, "title": null}},
       "y": {"field": "v", "type": "quantitative", "scale": {"domain": [0.9253, 1.0166], "nice": false, "zero": false}, "axis": {"orient": "right", "values": [0.94,0.96,0.98,1.0], "labels": false, "title": null}}
     }},
    {"data": {"name": "pts"}, "transform": [{"filter": "datum.b == 'r′'"}], "mark": {"type": "point", "filled": true, "opacity": 1, "size": 42},
     "encoding": {
       "x": {"field": "t", "type": "quantitative", "scale": {"domain": [-2, 2], "nice": false, "zero": false}, "axis": {"orient": "top", "values": [-2,-1.5,-1,-0.5,0,0.5,1,1.5,2], "format": ".1f", "title": "Time from Eclipse Center (hours)", "labelPadding": 14, "titlePadding": 3}},
       "y": {"field": "f", "type": "quantitative", "scale": {"domain": [0.9253, 1.0166], "nice": false, "zero": false}, "axis": {"orient": "left", "values": [0.94,0.96,0.98,1.0], "format": ".2f", "title": "Normalized Flux", "labelPadding": 10, "titlePadding": 7}},
       "color": {"field": "b", "type": "nominal", "scale": {"domain": ["r′","TESS","I"], "range": ["#1f77b4","#ff7f0e","#d62728"]},
         "legend": {"orient": "none", "legendX": 6, "legendY": 302, "title": null, "labelFont": "Liberation Serif", "labelFontStyle": "italic", "labelFontWeight": "bold", "labelFontSize": 13.5, "labelColor": "black", "strokeColor": "#888888", "fillColor": "white", "padding": 5, "rowPadding": 2, "symbolOffset": 9, "labelOffset": 12, "cornerRadius": 0, "symbolSize": 36,
           "encode": {"symbols": {"update": {"size": {"signal": "datum.value === 'TESS' ? 12 : 38"}}}}}},
       "shape": {"field": "b", "type": "nominal", "scale": {"domain": ["r′","TESS","I"], "range": ["diamond","circle","square"]}}
     }},
    {"data": {"name": "pts"}, "transform": [{"filter": "datum.b == 'TESS'"}], "mark": {"type": "point", "filled": true, "opacity": 1, "size": 12},
     "encoding": {
       "x": {"field": "t", "type": "quantitative", "scale": {"domain": [-2, 2], "nice": false, "zero": false}, "axis": null},
       "y": {"field": "f", "type": "quantitative", "scale": {"domain": [0.9253, 1.0166], "nice": false, "zero": false}, "axis": null},
       "color": {"field": "b", "type": "nominal"},
       "shape": {"field": "b", "type": "nominal"}
     }},
    {"data": {"name": "pts"}, "transform": [{"filter": "datum.b == 'I'"}], "mark": {"type": "point", "filled": true, "opacity": 1, "size": 34},
     "encoding": {
       "x": {"field": "t", "type": "quantitative", "scale": {"domain": [-2, 2], "nice": false, "zero": false}, "axis": null},
       "y": {"field": "f", "type": "quantitative", "scale": {"domain": [0.9253, 1.0166], "nice": false, "zero": false}, "axis": null},
       "color": {"field": "b", "type": "nominal"},
       "shape": {"field": "b", "type": "nominal"}
     }},
    {"data": {"name": "mod"}, "transform": [{"filter": "datum.b == 'r′'"}], "mark": {"type": "line", "color": "#1f77b4", "strokeWidth": 3, "interpolate": "monotone"},
     "encoding": {"x": {"field": "t", "type": "quantitative", "scale": {"domain": [-2, 2], "nice": false, "zero": false}, "axis": null}, "y": {"field": "f", "type": "quantitative", "scale": {"domain": [0.9253, 1.0166], "nice": false, "zero": false}, "axis": null}}},
    {"data": {"name": "mod"}, "transform": [{"filter": "datum.b == 'TESS'"}], "mark": {"type": "line", "color": "#ff7f0e", "strokeWidth": 3, "interpolate": "monotone"},
     "encoding": {"x": {"field": "t", "type": "quantitative", "scale": {"domain": [-2, 2], "nice": false, "zero": false}, "axis": null}, "y": {"field": "f", "type": "quantitative", "scale": {"domain": [0.9253, 1.0166], "nice": false, "zero": false}, "axis": null}}},
    {"data": {"name": "mod"}, "transform": [{"filter": "datum.b == 'I'"}], "mark": {"type": "line", "color": "#d62728", "strokeWidth": 3, "interpolate": "monotone"},
     "encoding": {"x": {"field": "t", "type": "quantitative", "scale": {"domain": [-2, 2], "nice": false, "zero": false}, "axis": null}, "y": {"field": "f", "type": "quantitative", "scale": {"domain": [0.9253, 1.0166], "nice": false, "zero": false}, "axis": null}}},
    {"data": {"name": "dep"}, "transform": [{"filter": "datum.b == 'r′'"}], "mark": {"type": "rule", "color": "#1f77b4", "strokeWidth": 3},
     "encoding": {"x": {"field": "t1", "type": "quantitative", "scale": {"domain": [-2, 2], "nice": false, "zero": false}, "axis": null}, "x2": {"field": "t2"}, "y": {"field": "f", "type": "quantitative", "scale": {"domain": [0.9253, 1.0166], "nice": false, "zero": false}, "axis": null}}},
    {"data": {"name": "dep"}, "transform": [{"filter": "datum.b == 'TESS'"}], "mark": {"type": "rule", "color": "#ff7f0e", "strokeWidth": 3},
     "encoding": {"x": {"field": "t1", "type": "quantitative", "scale": {"domain": [-2, 2], "nice": false, "zero": false}, "axis": null}, "x2": {"field": "t2"}, "y": {"field": "f", "type": "quantitative", "scale": {"domain": [0.9253, 1.0166], "nice": false, "zero": false}, "axis": null}}},
    {"data": {"name": "dep"}, "transform": [{"filter": "datum.b == 'I'"}], "mark": {"type": "rule", "color": "#d62728", "strokeWidth": 3},
     "encoding": {"x": {"field": "t1", "type": "quantitative", "scale": {"domain": [-2, 2], "nice": false, "zero": false}, "axis": null}, "x2": {"field": "t2"}, "y": {"field": "f", "type": "quantitative", "scale": {"domain": [0.9253, 1.0166], "nice": false, "zero": false}, "axis": null}}}
  ],
  "resolve": {"scale": {"x": "independent", "y": "independent"}}
},
{
  "spacing": 8,
  "bounds": "flush",
  "vconcat": [
    {
      "width": 308, "height": 65,
      "layer": [
        {"data": {"values": [{"ph": 0.90045, "v": 0}]}, "mark": {"type": "point", "opacity": 0},
         "encoding": {
           "x": {"field": "ph", "type": "quantitative", "scale": {"domain": [0.90045, 0.91597], "nice": false, "zero": false}, "axis": {"orient": "bottom", "values": [0.902,0.904,0.906,0.908,0.910,0.912,0.914], "labels": false, "title": null}},
           "y": {"field": "v", "type": "quantitative", "scale": {"domain": [-0.0055, 0.0056], "nice": false, "zero": false}, "axis": {"orient": "right", "values": [-0.005,0,0.005], "labels": false, "title": null}}
         }},
        {"data": {"name": "pts"}, "transform": [{"filter": "datum.b == 'r′'"}], "mark": {"type": "errorbar", "color": "#1f77b4", "thickness": 1.6},
         "encoding": {
           "x": {"field": "t", "type": "quantitative", "scale": {"domain": [-2, 2], "nice": false, "zero": false}, "axis": {"orient": "top", "values": [-1.6005,-1.0851,-0.5696,-0.0541,0.4613,0.9768,1.4923], "labels": false, "title": null}},
           "y": {"field": "r", "type": "quantitative", "scale": {"domain": [-0.0055, 0.0056], "nice": false, "zero": false}, "axis": {"orient": "left", "values": [-0.005,0,0.005], "format": ".3f", "title": null, "labelPadding": 12}},
           "yError": {"field": "e"}
         }},
        {"data": {"name": "pts"}, "transform": [{"filter": "datum.b == 'r′'"}], "mark": {"type": "point", "shape": "diamond", "filled": true, "size": 30, "color": "#1f77b4", "opacity": 1},
         "encoding": {
           "x": {"field": "t", "type": "quantitative", "scale": {"domain": [-2, 2], "nice": false, "zero": false}, "axis": null},
           "y": {"field": "r", "type": "quantitative", "scale": {"domain": [-0.0055, 0.0056], "nice": false, "zero": false}, "axis": null}
         }},
        {"data": {"values": [{}]}, "mark": {"type": "rule", "color": "black", "strokeWidth": 2, "strokeDash": [8, 4]},
         "encoding": {"y": {"datum": 0, "type": "quantitative", "scale": {"domain": [-0.0055, 0.0056], "nice": false, "zero": false}, "axis": null}}}
      ],
      "resolve": {"scale": {"x": "independent", "y": "independent"}}
    },
    {
      "width": 308, "height": 70,
      "layer": [
        {"data": {"values": [{"ph": 0.90045, "v": 0}]}, "mark": {"type": "point", "opacity": 0},
         "encoding": {
           "x": {"field": "ph", "type": "quantitative", "scale": {"domain": [0.90045, 0.91597], "nice": false, "zero": false}, "axis": {"orient": "bottom", "values": [0.902,0.904,0.906,0.908,0.910,0.912,0.914], "labels": false, "title": null}},
           "y": {"field": "v", "type": "quantitative", "scale": {"domain": [-0.0317, 0.0262], "nice": false, "zero": false}, "axis": {"orient": "right", "values": [-0.02,0,0.02], "labels": false, "title": null}}
         }},
        {"data": {"name": "pts"}, "transform": [{"filter": "datum.b == 'TESS'"}], "mark": {"type": "errorbar", "color": "#ff7f0e", "thickness": 2},
         "encoding": {
           "x": {"field": "t", "type": "quantitative", "scale": {"domain": [-2, 2], "nice": false, "zero": false}, "axis": {"orient": "top", "values": [-1.6005,-1.0851,-0.5696,-0.0541,0.4613,0.9768,1.4923], "labels": false, "title": null}},
           "y": {"field": "r", "type": "quantitative", "scale": {"domain": [-0.0317, 0.0262], "nice": false, "zero": false}, "axis": {"orient": "left", "values": [-0.02,0,0.02], "format": ".2f", "title": "Residuals", "labelPadding": 12, "titlePadding": 6}},
           "yError": {"field": "e"}
         }},
        {"data": {"values": [{}]}, "mark": {"type": "rule", "color": "black", "strokeWidth": 2, "strokeDash": [8, 4]},
         "encoding": {"y": {"datum": 0, "type": "quantitative", "scale": {"domain": [-0.0317, 0.0262], "nice": false, "zero": false}, "axis": null}}}
      ],
      "resolve": {"scale": {"x": "independent", "y": "independent"}}
    },
    {
      "width": 308, "height": 68,
      "layer": [
        {"data": {"values": [{"ph": 0.90045, "v": 0}]}, "mark": {"type": "point", "opacity": 0},
         "encoding": {
           "x": {"field": "ph", "type": "quantitative", "scale": {"domain": [0.90045, 0.91597], "nice": false, "zero": false}, "axis": {"orient": "bottom", "values": [0.902,0.904,0.906,0.908,0.910,0.912,0.914], "format": ".3f", "title": "Phase", "labelPadding": 13, "titlePadding": 4}},
           "y": {"field": "v", "type": "quantitative", "scale": {"domain": [-0.0067, 0.0071], "nice": false, "zero": false}, "axis": {"orient": "right", "values": [-0.005,0,0.005], "labels": false, "title": null}}
         }},
        {"data": {"name": "pts"}, "transform": [{"filter": "datum.b == 'I'"}], "mark": {"type": "errorbar", "color": "#d62728", "thickness": 1.5},
         "encoding": {
           "x": {"field": "t", "type": "quantitative", "scale": {"domain": [-2, 2], "nice": false, "zero": false}, "axis": {"orient": "top", "values": [-1.6005,-1.0851,-0.5696,-0.0541,0.4613,0.9768,1.4923], "labels": false, "title": null}},
           "y": {"field": "r", "type": "quantitative", "scale": {"domain": [-0.0067, 0.0071], "nice": false, "zero": false}, "axis": {"orient": "left", "values": [-0.005,0,0.005], "format": ".3f", "title": null, "labelPadding": 12}},
           "yError": {"field": "e"}
         }},
        {"data": {"name": "pts"}, "transform": [{"filter": "datum.b == 'I'"}], "mark": {"type": "point", "shape": "square", "filled": true, "size": 18, "color": "#d62728", "opacity": 1},
         "encoding": {
           "x": {"field": "t", "type": "quantitative", "scale": {"domain": [-2, 2], "nice": false, "zero": false}, "axis": null},
           "y": {"field": "r", "type": "quantitative", "scale": {"domain": [-0.0067, 0.0071], "nice": false, "zero": false}, "axis": null}
         }},
        {"data": {"values": [{}]}, "mark": {"type": "rule", "color": "black", "strokeWidth": 2, "strokeDash": [8, 4]},
         "encoding": {"y": {"datum": 0, "type": "quantitative", "scale": {"domain": [-0.0067, 0.0071], "nice": false, "zero": false}, "axis": null}}}
      ],
      "resolve": {"scale": {"x": "independent", "y": "independent"}}
    }
  ]
}
]
}
